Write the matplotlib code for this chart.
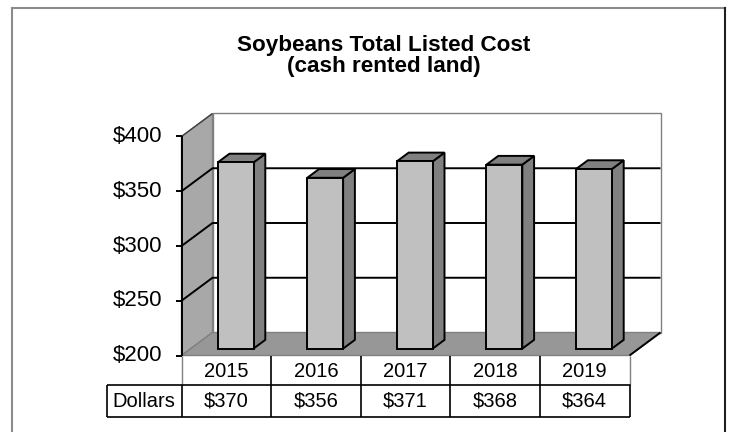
"""Soybeans total listed cost, drawn as a 3-D style column chart with a data table."""

import matplotlib

matplotlib.use("Agg")
import matplotlib.pyplot as plt
from matplotlib.patches import Polygon

plt.rcParams["font.family"] = ["Liberation Sans", "DejaVu Sans"]

years = ["2015", "2016", "2017", "2018", "2019"]
dollars = [370, 356, 371, 368, 364]
dollar_labels = ["$370", "$356", "$371", "$368", "$364"]
y_ticks = [200, 250, 300, 350, 400]
y_tick_labels = ["$200", "$250", "$300", "$350", "$400"]
row_label = "Dollars"
title = "Soybeans Total Listed Cost\n(cash rented land)"

W, H, DPI = 733, 432, 100
# pixel geometry of the plotting box
X0_PX, X1_PX = 181.5, 629.5
Y200_PX, Y400_PX = 355.5, 136.5
DEPTH_PX = (31.0, 23.0)

PX_PER_X = (X1_PX - X0_PX) / len(years)
PX_PER_Y = (Y200_PX - Y400_PX) / (y_ticks[-1] - y_ticks[0])
DX = DEPTH_PX[0] / PX_PER_X
DY = DEPTH_PX[1] / PX_PER_Y

WALL = "#a8a8a8"
FLOOR = "#979797"
BAR_FRONT = "#c0c0c0"
BAR_SIDE = "#808080"
EDGE_GREY = "#808080"


def _poly(ax, pts, face, edge="black", lw=1.4, z=1):
    ax.add_patch(Polygon(pts, closed=True, facecolor=face, edgecolor=edge,
                         linewidth=lw, joinstyle="miter", zorder=z, clip_on=False))


def _line(ax, xs, ys, color="black", lw=1.4, z=2):
    ax.plot(xs, ys, color=color, linewidth=lw, zorder=z, clip_on=False,
            solid_capstyle="butt")


def main() -> None:
    fig = plt.figure(figsize=(W / DPI, H / DPI), dpi=DPI)
    lo, hi = y_ticks[0], y_ticks[-1]
    xl, xr = -0.5, len(years) - 0.5
    ax = fig.add_axes([
        X0_PX / W,
        (H - Y200_PX) / H,
        (X1_PX - X0_PX + DEPTH_PX[0]) / W,
        (Y200_PX - Y400_PX + DEPTH_PX[1]) / H,
    ])
    ax.set_xlim(xl, xr + DX)
    ax.set_ylim(lo, hi + DY)
    ax.axis("off")

    # outer chart border
    fig.add_artist(plt.Line2D([12 / W, 12 / W], [0, 1 - 8 / H], color="#8c8c8c", lw=1.5))
    fig.add_artist(plt.Line2D([12 / W, 724.5 / W], [1 - 8 / H, 1 - 8 / H], color="#8c8c8c", lw=1.5))
    fig.add_artist(plt.Line2D([724.5 / W, 724.5 / W], [0, 1 - 8 / H], color="#202020", lw=1.5))

    fig.text(384 / W, 1 - 56 / H, title, ha="center", va="center",
             fontsize=16.2, fontweight="bold", linespacing=1.0)

    # back wall, side wall and floor
    _poly(ax, [(xl + DX, lo + DY), (xr + DX, lo + DY), (xr + DX, hi + DY), (xl + DX, hi + DY)],
          "white", edge=EDGE_GREY, lw=1.0, z=0)
    _poly(ax, [(xl, lo), (xl + DX, lo + DY), (xl + DX, hi + DY), (xl, hi)],
          WALL, edge=EDGE_GREY, lw=1.0, z=1)
    _poly(ax, [(xl, lo), (xr, lo), (xr + DX, lo + DY), (xl + DX, lo + DY)],
          FLOOR, edge=EDGE_GREY, lw=1.0, z=1)
    _line(ax, [xr, xr + DX], [lo, lo + DY], z=2)

    # gridlines across side wall and back wall
    for v in y_ticks[1:-1]:
        _line(ax, [xl, xl + DX, xr + DX], [v, v + DY, v + DY], z=2)
    _line(ax, [xl, xl + DX], [hi, hi + DY], color="#404040", lw=1.0, z=2)

    # front axis and ticks
    _line(ax, [xl, xl], [lo, hi], z=3)
    tick_len = 6 / PX_PER_X
    for v, lab in zip(y_ticks, y_tick_labels):
        _line(ax, [xl - tick_len, xl], [v, v], z=3)
        ax.text(xl - 19 / PX_PER_X, v, lab, ha="right", va="center", fontsize=16)

    # 3-d columns
    f1, f2 = 0.30, 0.68
    half = 0.2
    for i, v in enumerate(dollars):
        x0, x1 = i - half + f1 * DX, i + half + f1 * DX
        b0, t0 = lo + f1 * DY, v + f1 * DY
        ddx, ddy = (f2 - f1) * DX, (f2 - f1) * DY
        _poly(ax, [(x1, b0), (x1 + ddx, b0 + ddy), (x1 + ddx, t0 + ddy), (x1, t0)], BAR_SIDE, z=4)
        _poly(ax, [(x0, t0), (x1, t0), (x1 + ddx, t0 + ddy), (x0 + ddx, t0 + ddy)], BAR_SIDE, z=4)
        _poly(ax, [(x0, b0), (x1, b0), (x1, t0), (x0, t0)], BAR_FRONT, z=5)

    # data table under the plot
    row1 = lo - 29.5 / PX_PER_Y
    row2 = row1 - 32 / PX_PER_Y
    label_left = xl - 75 / PX_PER_X
    _line(ax, [xl, xl], [lo, row1], color=EDGE_GREY, lw=1.0, z=3)
    _line(ax, [xr, xr], [lo, row1], color=EDGE_GREY, lw=1.0, z=3)
    for k in range(1, len(years)):
        _line(ax, [xl + k, xl + k], [lo, row2], lw=1.2, z=3)
    _line(ax, [label_left, xr, xr], [row1, row1, row2], lw=1.2, z=3)
    _line(ax, [label_left, xr], [row2, row2], lw=1.2, z=3)
    _line(ax, [label_left, label_left], [row1, row2], lw=1.2, z=3)
    _line(ax, [xl, xl], [row1, row2], lw=1.2, z=3)
    ax.text((label_left + xl) / 2, (row1 + row2) / 2, row_label,
            ha="center", va="center", fontsize=14.5)
    for i, (yr, lab) in enumerate(zip(years, dollar_labels)):
        ax.text(i, (lo + row1) / 2 - 1.5, yr, ha="center", va="center", fontsize=14.5)
        ax.text(i, (row1 + row2) / 2, lab, ha="center", va="center", fontsize=14.5)

    fig.savefig("out.png", dpi=DPI)
    plt.close(fig)


if __name__ == "__main__":
    main()
